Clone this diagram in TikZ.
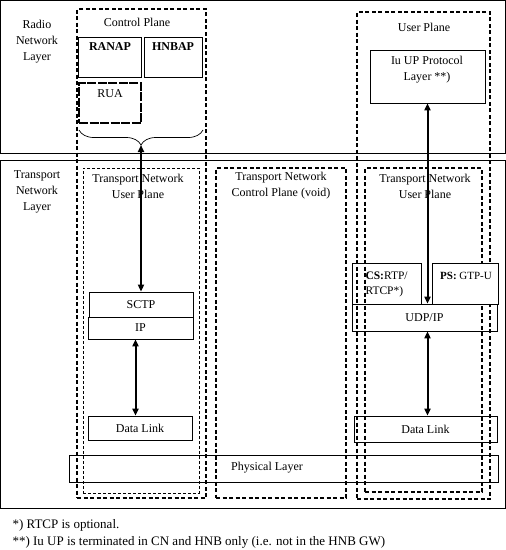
\documentclass[tikz,border=0pt]{standalone}
\usepackage{fontspec}
\setmainfont{Liberation Serif}
\usetikzlibrary{arrows.meta,fit,decorations.pathreplacing}

\begin{document}
\begin{tikzpicture}[x=1pt, y=-1pt, font=\fontsize{12}{16}\selectfont,
    box/.style={draw, line width=0.7pt, inner sep=0pt},
    plane/.style={draw, line width=1.8pt, dash pattern=on 4pt off 2.5pt, inner sep=0pt},
    thinplane/.style={draw, line width=0.7pt, dash pattern=on 3pt off 2pt, inner sep=0pt},
    updown/.style={{Triangle[length=7pt,width=6pt]}-{Triangle[length=7pt,width=6pt]}, line width=2pt}]
  \useasboundingbox (0,0) rectangle (506,550);

  % layers
  \node[box, fit={(0.5,0.5) (505.5,153)}] (radio) {};
  \node[box, fit={(0.5,160) (505.5,508)}] (transport) {};
  \node[align=center] (radiotxt) at (37,42) {Radio\\Network\\Layer};
  \node[align=center] (transtxt) at (37,192) {Transport\\Network\\Layer};

  % planes
  \node[plane, fit={(77,9) (206,498)}] (cp) {};
  \node (cptxt) at (137,22) {Control Plane};
  \node[plane, fit={(357,12) (490,499)}] (up) {};
  \node (uptxt) at (424,27) {User Plane};
  \node[thinplane, fit={(83,168) (199,493)}] (tnupl) {};
  \node[align=center] (tnupltxt) at (138,186) {Transport Network\\User Plane};
  \node[plane, fit={(216,168) (346,498)}] (tncp) {};
  \node[align=center] (tncptxt) at (281,186) {Transport Network\\Control Plane (void)};
  \node[plane, line width=1.4pt, fit={(365,168) (482,492)}] (tnupr) {};
  \node[align=center] (tnuprtxt) at (425,186) {Transport Network\\User Plane};

  % radio network layer
  \node[box, fit={(78,37) (141,77)}] (ranap) {};
  \node (ranaptxt) at (110,47) {\textbf{RANAP}};
  \node[box, fit={(144,37) (202,77)}] (hnbap) {};
  \node (hnbaptxt) at (173,47) {\textbf{HNBAP}};
  \node[box, line width=1.6pt, dash pattern=on 9pt off 1.5pt, fit={(79,83) (141,123)}] (rua) {};
  \node (ruatxt) at (110,94) {RUA};
  \draw[line width=0.7pt, decorate, decoration={brace, mirror, amplitude=15pt}]
    (79,130) -- (203,130);
  \coordinate (brtip) at (141,145);
  \node[box, fit={(370,50) (485,103)}] (iuup) {};
  \node[align=center] (iuuptxt) at (427,70) {Iu UP Protocol\\Layer **)};

  % transport network layer
  \node[box, minimum width=104pt, minimum height=25pt] (sctp) at (141,304.5) {SCTP};
  \node[box, minimum width=105pt, minimum height=22pt] (ip) at (140.5,328) {IP};
  \node[box, minimum width=104pt, minimum height=24pt] (dll) at (140,428) {Data Link};
  \node[box, fit={(352,263) (421,304)}] (cs) {};
  \node[align=left, anchor=north west, font=\fontsize{11.5}{15}\selectfont] (cstxt) at (362,268) {\textbf{CS:}RTP/\\RTCP*)};
  \node[box, fill=white, fit={(432,263) (498,304)}] (ps) {};
  \node[font=\fontsize{11}{15}\selectfont] (pstxt) at (466,276) {\textbf{PS:} GTP-U};
  \node[box, minimum width=145pt, minimum height=27pt] (udp) at (424.5,317.5) {UDP/IP};
  \node[box, minimum width=143pt, minimum height=26pt] (dlr) at (425.5,429) {Data Link};
  \node[box, minimum width=429pt, minimum height=27pt] (phy) at (283.5,468.5) {};
  \node (phytxt) at (267,468) {Physical Layer};

  % connections
  \draw[updown, line width=1.6pt] (brtip) -- (sctp.north -| brtip);
  \draw[updown] ([xshift=-5pt]ip.south) -- ([xshift=-5pt]ip.south |- dll.north);
  \draw[updown] (iuup.south) -- (iuup.south |- udp.north);
  \draw[updown] (udp.south -| iuup.south) -- (iuup.south |- dlr.north);

  % notes
  \node[anchor=west, font=\fontsize{13}{16}\selectfont] (note1) at (9,525) {*) RTCP is optional.};
  \node[anchor=west, font=\fontsize{13}{16}\selectfont] (note2) at (9,542) {**) Iu UP is terminated in CN and HNB only (i.e. not in the HNB GW)};
\end{tikzpicture}
\end{document}
